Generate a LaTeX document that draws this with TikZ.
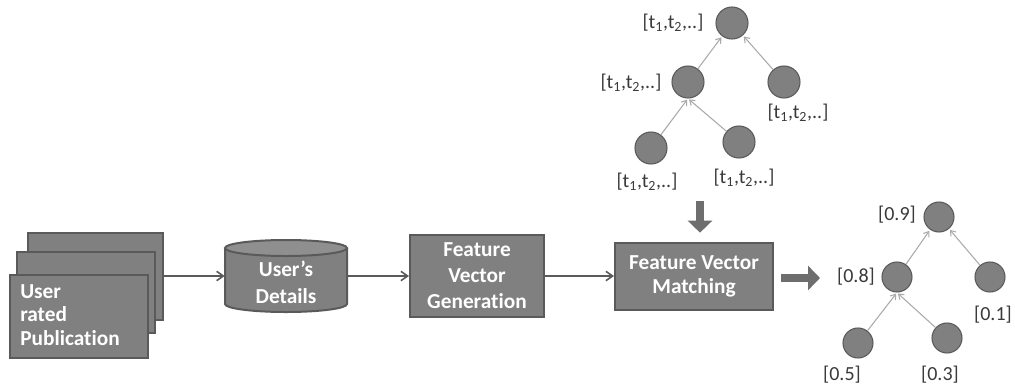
\documentclass[tikz,border=0pt]{standalone}
\usepackage{fontspec}
\setmainfont{Carlito}[Ligatures=NoCommon]
\usetikzlibrary{arrows.meta,positioning}
\definecolor{boxfill}{HTML}{808080}
\definecolor{boxedge}{HTML}{5A5A5A}
\definecolor{txtgray}{HTML}{3A3A3A}
\definecolor{edgegray}{HTML}{ABABAB}
\definecolor{fatgray}{HTML}{6E6E6E}
\newcommand{\tlab}{[t\textsubscript{1},t\textsubscript{2},..]}
\tikzset{
  procbox/.style={draw=boxedge, line width=1.5pt, fill=boxfill, text=white, align=center, inner sep=0pt},
  pagebox/.style={draw=boxedge, line width=2.2pt, fill=boxfill, inner sep=0pt},
  treenode/.style={circle, draw=boxedge, line width=0.8pt, fill=boxfill, inner sep=0pt, minimum size=22.5pt},
  treelab/.style={text=txtgray, font=\fontsize{15}{17}\selectfont, inner sep=0pt},
  flow/.style={draw=boxedge, line width=1.2pt, -{Straight Barb[length=5pt,width=7pt]}},
  treeedge/.style={draw=edgegray, line width=0.8pt, -{Straight Barb[length=3.5pt,width=5pt]}, shorten >=1pt},
  fatarrow/.style={draw=fatgray, line width=6pt, -{Triangle[length=9pt,width=18pt]}}
}
\begin{document}
\begin{tikzpicture}[x=0.75pt,y=-0.75pt]
\useasboundingbox[fill=white] (0,0) rectangle (1015,390);
% stacked pages
\node[pagebox, minimum width=101.25pt, minimum height=65.25pt] (back) at (95.5,276.5) {};
\node[pagebox, minimum width=103.5pt, minimum height=60.75pt] (mid) at (86,292.5) {};
\node[pagebox, minimum width=103.5pt, minimum height=62.25pt] (front) at (79,316.5) {};
\node[anchor=west, text=white, align=left, font=\bfseries\fontsize{16}{17.5}\selectfont, inner sep=0pt] (ptext) at (20,315) {User\\rated\\Publication};
% cylinder
\node[minimum width=91.5pt, minimum height=54pt, inner sep=0pt] (cyl) at (286,276) {};
\fill[boxfill] (225,248) -- (225,304) arc[start angle=180, end angle=0, x radius=61, y radius=8] -- (347,248) arc[start angle=0, end angle=-180, x radius=61, y radius=8] -- cycle;
\draw[boxedge, line width=1.5pt] (225,248) -- (225,304) arc[start angle=180, end angle=0, x radius=61, y radius=8] -- (347,248);
\draw[boxedge, line width=1.5pt, fill=boxfill!88!white] (286,248) ellipse[x radius=61, y radius=8];
\node[text=white, align=center, font=\bfseries\fontsize{16}{20}\selectfont, inner sep=0pt] (cyltext) at (286,282) {User’s\\Details};
% process boxes
\node[procbox, minimum width=100.5pt, minimum height=61.5pt, font=\bfseries\fontsize{16}{19.5}\selectfont] (fvg) at (477,276) {Feature\\Vector\\Generation};
\node[procbox, minimum width=118.5pt, minimum height=50.25pt, font=\bfseries\fontsize{16}{17.5}\selectfont] (fvm) at (694,276.5) {Feature Vector\\Matching};
% flow arrows
\draw[flow] (back.east |- cyl.west) -- (cyl.west);
\draw[flow] (cyl.east) -- (cyl.east -| fvg.west);
\draw[flow] (fvg.east) -- (fvg.east -| fvm.west);
% top tree
\node[treenode, minimum size=24pt] (t0) at (732,23) {};
\node[treenode, minimum size=24pt] (t1) at (688,82) {};
\node[treenode, minimum size=24pt] (t2) at (784,82) {};
\node[treenode, minimum size=24pt] (t3) at (651,148) {};
\node[treenode, minimum size=24pt] (t4) at (739,142) {};
\draw[treeedge] (t1) -- (t0);
\draw[treeedge] (t2) -- (t0);
\draw[treeedge] (t3) -- (t1.south);
\draw[treeedge] (t4) -- (t1.south);
\node[treelab] (l0) at (673,23) {\tlab};
\node[treelab] (l1) at (631,83) {\tlab};
\node[treelab] (l2) at (798,113) {\tlab};
\node[treelab] (l3) at (647,182) {\tlab};
\node[treelab] (l4) at (744,178) {\tlab};
% down fat arrow
\coordinate (dtop) at (700,201);
\draw[fatarrow, shorten >=7pt] (dtop) -- (dtop |- fvm.north);
% right fat arrow
\coordinate (rend) at (820,278);
\draw[fatarrow] (fvm.east |- rend) ++(7,0) -- (rend);
% result tree
\node[treenode] (r0) at (939,217) {};
\node[treenode] (r1) at (897,277) {};
\node[treenode] (r2) at (990,277) {};
\node[treenode] (r3) at (858,343) {};
\node[treenode] (r4) at (947,338) {};
\draw[treeedge] (r1) -- (r0);
\draw[treeedge] (r2) -- (r0);
\draw[treeedge] (r3) -- (r1.south);
\draw[treeedge] (r4) -- (r1.south);
\node[treelab] (s0) at (897,215) {[0.9]};
\node[treelab] (s1) at (856,277) {[0.8]};
\node[treelab] (s2) at (993,315) {[0.1]};
\node[treelab] (s3) at (842,375) {[0.5]};
\node[treelab] (s4) at (940,375) {[0.3]};
\end{tikzpicture}
\end{document}
